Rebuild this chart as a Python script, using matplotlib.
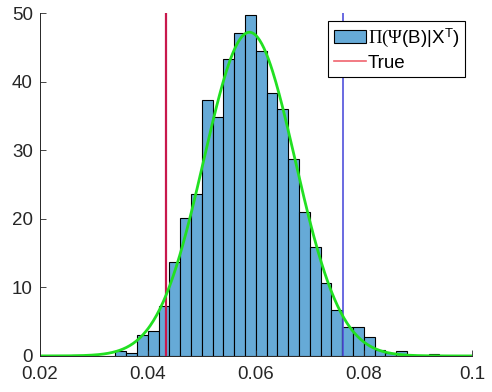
import numpy as np
import matplotlib
matplotlib.use('Agg')
import matplotlib.pyplot as plt
from matplotlib.lines import Line2D

# =============================================================================
# DATA (pdf-normalised histogram, bin width 0.002)
# =============================================================================
BIN_WIDTH = 0.002
BIN_LEFT = [0.026, 0.028, 0.030, 0.032, 0.034, 0.036, 0.038, 0.040, 0.042,
            0.044, 0.046, 0.048, 0.050, 0.052, 0.054, 0.056, 0.058, 0.060,
            0.062, 0.064, 0.066, 0.068, 0.070, 0.072, 0.074, 0.076, 0.078,
            0.080, 0.082, 0.084, 0.086, 0.088, 0.090, 0.092]
DENSITY = [0.2, 0.0, 0.0, 0.0, 0.7, 0.4, 3.0, 3.6, 7.3,
           13.7, 20.1, 23.6, 37.4, 34.8, 43.4, 47.2, 49.7, 44.5,
           38.3, 36.0, 28.7, 21.0, 15.9, 10.6, 6.7, 4.2, 4.2,
           2.8, 0.9, 0.5, 0.7, 0.0, 0.0, 0.25]

TRUE_VALUE = 0.0434
EST_VALUE = 0.0762

X_TICKS = [0.02, 0.04, 0.06, 0.08, 0.1]
X_LABELS = ['0.02', '0.04', '0.06', '0.08', '0.1']
Y_TICKS = [0, 10, 20, 30, 40, 50]

# =============================================================================
# FIT (normal pdf from the histogram moments)
# =============================================================================
left = np.array(BIN_LEFT)
dens = np.array(DENSITY)
centers = left + BIN_WIDTH / 2
w = dens * BIN_WIDTH
mu = np.sum(w * centers) / np.sum(w)
sigma = np.sqrt(np.sum(w * (centers - mu) ** 2) / np.sum(w))
xs = np.linspace(0.02, 0.1, 400)
pdf = np.exp(-0.5 * ((xs - mu) / sigma) ** 2) / (sigma * np.sqrt(2 * np.pi))

# =============================================================================
# PLOT
# =============================================================================
plt.rcParams['font.family'] = ['Liberation Sans', 'DejaVu Sans']
plt.rcParams['mathtext.fontset'] = 'custom'
plt.rcParams['mathtext.rm'] = 'Liberation Serif'
plt.rcParams['mathtext.it'] = 'Liberation Serif:italic'
plt.rcParams['mathtext.sf'] = 'Liberation Sans'

fig = plt.figure(figsize=(4.92, 3.92), dpi=100)
ax = fig.add_axes([0.081, 0.092, 0.878, 0.874])

bars = ax.bar(left, dens, width=BIN_WIDTH, align='edge', color='#66aad7',
              edgecolor='black', linewidth=0.8)
ax.axvline(TRUE_VALUE, color='#c8184c', linewidth=1.6)
ax.axvline(EST_VALUE, color='#5050dc', linewidth=1.2)
ax.plot(xs, pdf, color='#22e022', linewidth=2.0)

ax.set_xlim(0.02, 0.1)
ax.set_ylim(0, 50)
ax.set_xticks(X_TICKS)
ax.set_xticklabels(X_LABELS)
ax.set_yticks(Y_TICKS)
ax.tick_params(direction='in', length=4, width=0.6, labelsize=13.5,
               colors='#262626')
ax.tick_params(axis='x', pad=7)
ax.tick_params(axis='y', pad=5)
for s in ['top', 'right']:
    ax.spines[s].set_visible(False)
for s in ['left', 'bottom']:
    ax.spines[s].set_linewidth(0.7)
    ax.spines[s].set_color('#262626')

true_handle = Line2D([], [], color='#f0646e', linewidth=1.2)
leg = ax.legend([bars, true_handle],
                [r'$\Pi(\Psi$(B)|X$^{\mathsf{T}}$)', 'True'],
                loc='upper right', bbox_to_anchor=(0.984, 0.978),
                fontsize=13.5, frameon=True, fancybox=False,
                handlelength=1.7, handletextpad=0.1, borderpad=0.3,
                labelspacing=0.3, borderaxespad=0.0)
leg.get_frame().set_edgecolor('black')
leg.get_frame().set_linewidth(0.8)
leg.get_frame().set_alpha(1)

fig.savefig('out.png', dpi=100)
